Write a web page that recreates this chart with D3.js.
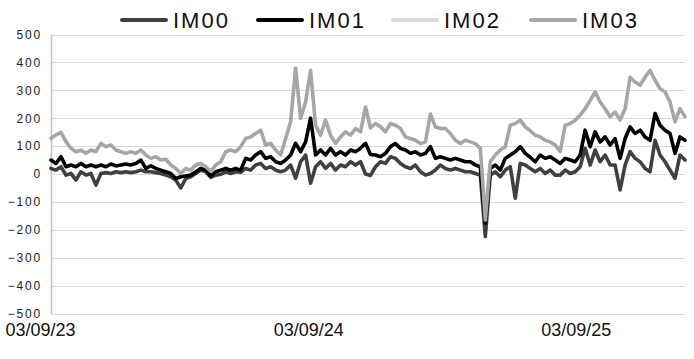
<!DOCTYPE html>
<html>
<head>
<meta charset="UTF-8">
<style>
body {margin:0; background:#fff;}
.grid line {stroke:#d9d9d9; stroke-width:1px;}
.yaxis text {font-family:"Liberation Sans", Arial, sans-serif; font-size:12px; letter-spacing:1.8px; fill:#222;}
.xaxis text {font-family:"Liberation Sans", Arial, sans-serif; font-size:18px; fill:#111;}
.legend text {font-family:"Liberation Sans", Arial, sans-serif; font-size:22px; letter-spacing:2px; fill:#111;}
.series {fill:none; stroke-width:3.6px; stroke-linejoin:round; stroke-linecap:round;}
</style>
<script src="https://cdn.jsdelivr.net/npm/d3@7"></script>
<title>IM</title>
</head>
<body>
<svg id="chart" width="694" height="359"></svg>
<script>
// weekly samples, 03/09/23 -> mid Jan 26
var IM00 = [
  20,14,26,-4,2,-22,8,-4,2,-40,
  2,5,2,8,5,8,5,8,14,8,
  8,5,2,-4,-10,-22,-50,-16,-10,2,
  14,8,-12,-4,-1,8,2,8,6,20,
  14,32,38,20,26,14,8,14,32,-15,
  44,68,-33,26,44,20,38,14,32,26,
  44,32,44,0,-5,26,44,38,62,56,
  38,26,20,32,8,-4,2,14,32,20,
  14,20,14,8,8,2,-4,-224,-4,8,
  -10,14,26,-87,38,32,20,8,20,2,
  14,-4,-4,14,2,8,26,92,32,86,
  44,68,32,32,-57,32,80,56,44,20,
  8,121,68,44,14,-15,68,50
];
var IM01 = [
  50,38,62,26,32,26,38,26,32,26,
  32,26,36,29,32,36,32,38,50,20,
  29,20,14,8,2,-16,-10,-7,-4,8,
  20,14,-8,8,14,20,14,20,14,56,
  50,68,80,56,62,44,38,50,68,110,
  80,115,200,68,86,68,92,68,80,68,
  86,80,92,110,70,68,62,74,98,109,
  92,86,74,80,68,74,98,56,62,56,
  50,56,50,44,44,32,26,-176,20,32,
  14,56,68,80,98,74,60,44,68,56,
  62,50,38,56,50,44,68,157,98,151,
  115,133,104,127,56,127,169,145,157,133,
  121,217,175,157,145,74,133,121
];
// IM02 cannot be told apart from IM03 in the picture (drawn underneath it)
var IM02 = [];
var IM03 = [
  128,140,149,116,92,80,86,74,86,80,
  110,98,104,86,80,74,80,74,86,68,
  56,62,50,53,32,20,2,20,14,32,
  38,26,10,32,44,80,86,80,98,127,
  133,145,157,104,110,86,68,127,187,380,
  199,258,371,175,139,193,139,110,133,151,
  139,163,151,240,165,181,169,151,181,175,
  163,133,127,121,109,115,215,169,163,163,
  145,121,109,121,115,109,92,-165,44,68,
  86,98,175,181,193,169,155,139,133,121,
  115,104,80,175,181,193,211,234,264,294,
  258,234,205,222,193,234,347,330,318,347,
  371,336,306,294,258,187,234,205
];

var seriesNames = ["IM00", "IM01", "IM02", "IM03"];
var seriesColors = ["#404040", "#000000", "#d9d9d9", "#a6a6a6"];
var seriesData = [IM00, IM01, IM02, IM03];

var yTicks = [-500, -400, -300, -200, -100, 0, 100, 200, 300, 400, 500];
var xTickDates = ["2023-09-03", "2024-09-03", "2025-09-03"];
var startDate = "2023-09-03", endDate = "2026-01-15";

var svg = d3.select("#chart");
var plotLeft = 51, plotRight = 685, plotTop = 34.5, plotBottom = 313.5;

var parse = d3.timeParse("%Y-%m-%d");
var t0 = parse(startDate), t1 = parse(endDate);
var n = IM03.length;
var dates = d3.range(n).map(function(i) { return new Date(+t0 + i * (t1 - t0) / (n - 1)); });

var x = d3.scaleTime().domain([t0, t1]).range([plotLeft, plotRight]);
var y = d3.scaleLinear().domain([-500, 500]).range([plotBottom, plotTop]);

// gridlines
svg.append("g").attr("class", "grid")
  .selectAll("line").data(yTicks).enter().append("line")
  .attr("x1", plotLeft).attr("x2", plotRight)
  .attr("y1", function(d) { return Math.round(y(d)) + 0.5; })
  .attr("y2", function(d) { return Math.round(y(d)) + 0.5; });

svg.append("line")
  .attr("x1", plotLeft + 0.5).attr("x2", plotLeft + 0.5)
  .attr("y1", plotTop).attr("y2", plotBottom + 1)
  .attr("stroke", "#bfbfbf").attr("stroke-width", 1.5);

// y labels
var yAxis = d3.axisLeft(y).tickValues(yTicks).tickSize(0).tickPadding(9);
svg.append("g").attr("class", "yaxis")
  .attr("transform", "translate(" + plotLeft + ",0)")
  .call(yAxis)
  .call(function(g) { g.select(".domain").remove(); });

// x labels
var xAxis = d3.axisBottom(x).tickValues(xTickDates.map(parse))
  .tickFormat(d3.timeFormat("%d/%m/%y")).tickSize(0).tickPadding(10);
svg.append("g").attr("class", "xaxis")
  .attr("transform", "translate(0," + plotBottom + ")")
  .call(xAxis)
  .call(function(g) {
    g.select(".domain").remove();
    g.selectAll("text").attr("dx", -11);
  });

// lines
var line = d3.line()
  .x(function(d, i) { return x(dates[i]); })
  .y(function(d) { return y(d); });

svg.append("g").selectAll("path").data(seriesData).enter().append("path")
  .attr("class", "series")
  .attr("stroke", function(d, i) { return seriesColors[i]; })
  .attr("d", function(d) { return d.length ? line(d) : null; });

// legend
var legendX = [122, 258, 393, 531];
var lg = svg.append("g").attr("class", "legend");
seriesNames.forEach(function(name, i) {
  lg.append("line")
    .attr("x1", legendX[i]).attr("x2", legendX[i] + 44)
    .attr("y1", 20).attr("y2", 20)
    .attr("stroke", seriesColors[i]).attr("stroke-width", 4)
    .attr("stroke-linecap", "round");
  lg.append("text").attr("x", legendX[i] + 51).attr("y", 28).text(name);
});
</script>
</body>
</html>
